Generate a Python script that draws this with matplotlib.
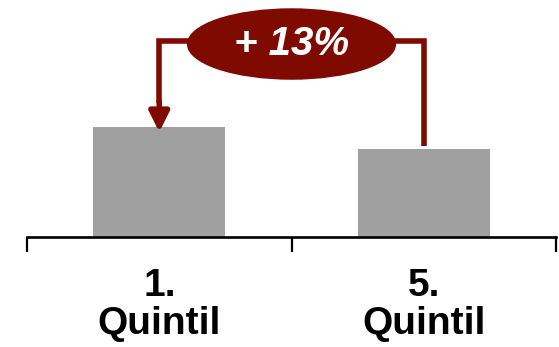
import matplotlib
matplotlib.use('Agg')
import matplotlib.pyplot as plt
from matplotlib.patches import Ellipse

quintiles = ['1.\nQuintil', '5.\nQuintil']
index_values = [113, 100]
y_floor = 48

BAR = '#a0a0a0'
RED = '#7f0a00'

plt.rcParams.update({'font.family': ['Liberation Sans', 'DejaVu Sans']})
fig = plt.figure(figsize=(5.59, 3.47), dpi=100)
fig.patch.set_facecolor('white')
ax = fig.add_axes([27 / 559, 1 - 237 / 347, 529 / 559, 237 / 347])

x = list(range(len(quintiles)))
ax.bar(x, index_values, width=0.5, color=BAR, bottom=0, zorder=2)
ax.set_xlim(-0.5, len(quintiles) - 0.5)
ax.set_ylim(y_floor, 188)

# only the category axis, with separators between groups
for side in ['top', 'right', 'left']:
    ax.spines[side].set_visible(False)
ax.spines['bottom'].set_linewidth(1.9)
ax.set_yticks([])
ax.set_xticks(x)
ax.set_xticklabels(quintiles, fontsize=28, fontweight='bold', linespacing=1.1)
ax.tick_params(axis='x', which='major', length=0, pad=22)
ax.set_xticks([-0.5, 0.5, 1.5], minor=True)
ax.tick_params(axis='x', which='minor', length=11, width=1.6, direction='out')

# bracket between the two quintiles
y_link = 164
first, last = index_values[0], index_values[-1]
ax.plot([0, 0, 1, 1], [first + 14, y_link, y_link, last + 2], color=RED, lw=4,
        solid_joinstyle='miter', solid_capstyle='butt', zorder=3)
ax.annotate('', xy=(0, first - 3), xytext=(0, first + 15),
            arrowprops=dict(arrowstyle='-|>,head_length=0.6,head_width=0.3',
                            mutation_scale=20, lw=4, color=RED,
                            shrinkA=0, shrinkB=0),
            zorder=3)

change = round((first / last - 1) * 100)
ax.add_patch(Ellipse((0.5, 162), 0.786, 41.4, color=RED, zorder=4))
ax.text(0.5, 162, f'+ {change}%', ha='center', va='center', color='white',
        fontsize=29, fontweight='bold', fontstyle='italic', zorder=5)

fig.savefig('out.png', dpi=100)
